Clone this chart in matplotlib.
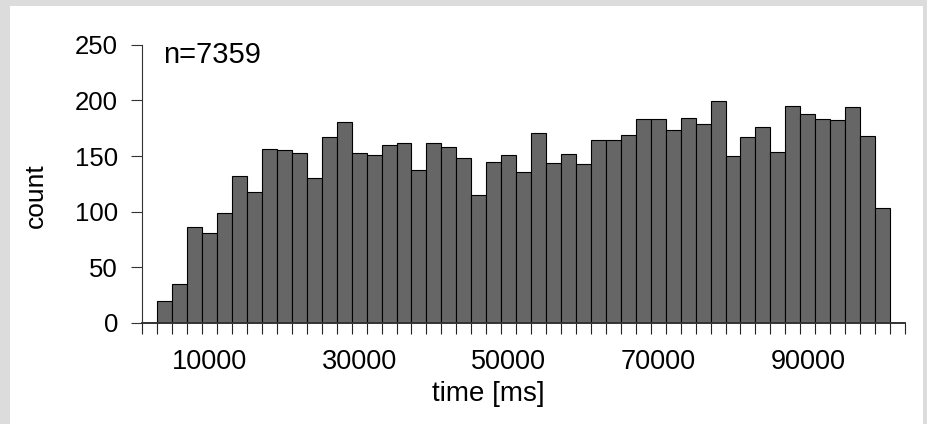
import matplotlib
matplotlib.use("Agg")
import matplotlib.pyplot as plt
from matplotlib.patches import Rectangle
import numpy as np

plt.rcParams['font.family'] = ['Liberation Sans', 'DejaVu Sans']

# ---- data ----
bin_width = 2000
bin_centers = list(range(4000, 100001, 2000))   # time [ms], 49 bins
counts = [20, 35, 86, 81, 99, 132, 118, 156, 155, 153,
          130, 167, 181, 153, 151, 160, 162, 137, 162, 158,
          148, 115, 145, 151, 136, 171, 144, 152, 143, 164,
          164, 169, 183, 183, 173, 184, 179, 199, 150, 167,
          176, 154, 195, 188, 183, 182, 194, 168, 103]
x_tick_values = [10000, 30000, 50000, 70000, 90000]
x_tick_labels = ['10000', '30000', '50000', '70000', '90000']
y_ticks = [0, 50, 100, 150, 200, 250]
annotation = 'n=7359'

W, H = 927, 424
fig = plt.figure(figsize=(W / 100, H / 100), dpi=100)
fig.patch.set_facecolor('#DCDCDC')
fig.patches.append(Rectangle((10 / W, 0), 913 / W, 418 / H, transform=fig.transFigure,
                             facecolor='white', edgecolor='none', zorder=-10))

ax_l, ax_r, ax_b, ax_t = 142.3, 905.0, 323.0, 44.7
ax = fig.add_axes([ax_l / W, (H - ax_b) / H, (ax_r - ax_l) / W, (ax_b - ax_t) / H])
ax.set_facecolor('none')
ax.set_zorder(5)

ax.bar(bin_centers, counts, width=bin_width, color='#666666',
       edgecolor='black', linewidth=0.8, zorder=2)

lo = bin_centers[0] - 1.5 * bin_width
hi = bin_centers[-1] + 1.5 * bin_width
ax.set_xlim(lo, hi)
ax.set_ylim(0, 250)

for s in ['top', 'right']:
    ax.spines[s].set_visible(False)
ax.spines['left'].set_color('#333333')
ax.spines['left'].set_linewidth(0.8)
ax.spines['bottom'].set_color('#333333')
ax.spines['bottom'].set_linewidth(1.4)
ax.spines['bottom'].set_zorder(3)

ax.set_yticks(y_ticks)
ax.set_yticklabels([str(v) for v in y_ticks])
ax.tick_params(axis='y', direction='out', length=7.6, width=0.8, pad=9.9,
               labelsize=18.5, color='#333333')

ax.set_xticks(x_tick_values)
ax.set_xticklabels(x_tick_labels)
ax.tick_params(axis='x', which='major', length=0, pad=18.5, labelsize=19.5)
ax.set_xticks(np.arange(lo, hi + 1, bin_width), minor=True)
ax.tick_params(axis='x', which='minor', direction='out', length=8, width=0.8,
               color='#222222')

fig.text(162.7 / W, (H - 63.3) / H, annotation, ha='left', va='baseline', fontsize=21)
fig.text(488 / W, (H - 401) / H, 'time [ms]', ha='center', va='baseline', fontsize=20)
fig.text(43 / W, (H - 196) / H, 'count', ha='center', va='baseline', rotation=90,
         rotation_mode='anchor', fontsize=19)

fig.savefig('out.png', dpi=100, facecolor=fig.get_facecolor())
